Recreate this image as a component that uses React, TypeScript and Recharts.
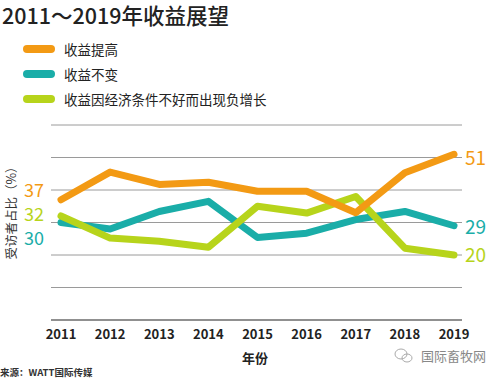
import React from 'react';
import { LineChart, Line, XAxis, YAxis, CartesianGrid } from 'recharts';

const years = ['2011', '2012', '2013', '2014', '2015', '2016', '2017', '2018', '2019'];
const increase = [37, 45.5, 41.7, 42.4, 39.6, 39.6, 33, 45.3, 51];
const unchanged = [30, 28, 33.4, 36.5, 25.4, 26.7, 30.9, 33.4, 29];
const decrease = [32, 25.2, 24.2, 22.4, 35, 32.9, 38, 22.1, 20];
const seriesNames = ['收益提高', '收益不变', '收益因经济条件不好而出现负增长'];
const colors = ['#F39A14', '#1AADA8', '#B7D41B'];
const yTicks = [0, 10, 20, 30, 40, 50, 60];

const data = years.map((y, i) => ({ year: y, a: increase[i], b: unchanged[i], c: decrease[i] }));

const FONT = '"Noto Sans CJK SC", "Noto Sans", sans-serif';

const makeLabel = (color: string, leftDy: number, rightDy: number) => (props: any) => {
  const { x, y, index, value } = props;
  if (index === 0) {
    return (
      <text key={`l${index}`} x={x - 17} y={y + leftDy} textAnchor="end" dominantBaseline="central" fill={color} fontSize={18} fontFamily={FONT}>
        {Math.round(value)}
      </text>
    );
  }
  if (index === years.length - 1) {
    return (
      <text key={`l${index}`} x={x + 11} y={y + rightDy} textAnchor="start" dominantBaseline="central" fill={color} fontSize={19} fontFamily={FONT}>
        {Math.round(value)}
      </text>
    );
  }
  return null;
};

export default function App() {
  return (
    <div style={{ position: 'absolute', left: 0, top: 0, width: 496, height: 379, background: '#fff', fontFamily: FONT }}>
      <div style={{ position: 'absolute', left: 2, top: 0, fontSize: 21.5, lineHeight: '30px', color: '#222', fontWeight: 500, whiteSpace: 'nowrap' }}>2011～2019年收益展望</div>
      {seriesNames.map((n, i) => (
        <div key={n} style={{ position: 'absolute', left: 23, top: 40 + i * 25, height: 18, display: 'flex', alignItems: 'center' }}>
          <div style={{ width: 32, height: 8, borderRadius: 4, background: colors[i] }} />
          <span style={{ marginLeft: 9, fontSize: 13.5, color: '#222', whiteSpace: 'nowrap' }}>{n}</span>
        </div>
      ))}
      <div style={{ position: 'absolute', left: 11, top: 210, transform: 'translate(-50%, -50%) rotate(-90deg)', fontSize: 12.5, lineHeight: '14px', color: '#333', whiteSpace: 'nowrap' }}>受访者占比（%）</div>
      <LineChart width={496} height={379} data={data} margin={{ top: 125, right: 34, bottom: 29, left: 51 }}>
        <CartesianGrid horizontal vertical={false} stroke="#9a9a9a" strokeWidth={1} />
        <YAxis hide domain={[0, 60]} ticks={yTicks} />
        <XAxis dataKey="year" height={30} axisLine={{ stroke: '#555', strokeWidth: 1.2 }} tickLine={false} padding={{ left: 10, right: 8 }} tickMargin={4}
          tick={{ fontSize: 13, fill: '#222', fontWeight: 600, fontFamily: FONT }} interval={0} />
        <Line dataKey="b" stroke={colors[1]} strokeWidth={7} dot={false} strokeLinecap="round" strokeLinejoin="round" isAnimationActive={false} label={makeLabel(colors[1], 14, 0)} />
        <Line dataKey="c" stroke={colors[2]} strokeWidth={7} dot={false} strokeLinecap="round" strokeLinejoin="round" isAnimationActive={false} label={makeLabel(colors[2], -3, -2)} />
        <Line dataKey="a" stroke={colors[0]} strokeWidth={7} dot={false} strokeLinecap="round" strokeLinejoin="round" isAnimationActive={false} label={makeLabel(colors[0], -11, 2)} />
      </LineChart>
      <div style={{ position: 'absolute', left: 242, top: 349, fontSize: 13, lineHeight: '18px', color: '#222', fontWeight: 600 }}>年份</div>
      <div style={{ position: 'absolute', left: 0, top: 366, fontSize: 9.5, lineHeight: '12px', color: '#333', fontWeight: 700, whiteSpace: 'nowrap' }}>来源：WATT国际传媒</div>
      <svg style={{ position: 'absolute', left: 394, top: 347 }} width={20} height={18}>
        <ellipse cx={7} cy={7} rx={6} ry={5} fill="none" stroke="#aaa" strokeWidth={1} />
        <ellipse cx={13} cy={11} rx={5} ry={4} fill="none" stroke="#aaa" strokeWidth={1} />
      </svg>
      <div style={{ position: 'absolute', left: 421, top: 347, fontSize: 13, lineHeight: '18px', color: '#888', whiteSpace: 'nowrap' }}>国际畜牧网</div>
    </div>
  );
}
